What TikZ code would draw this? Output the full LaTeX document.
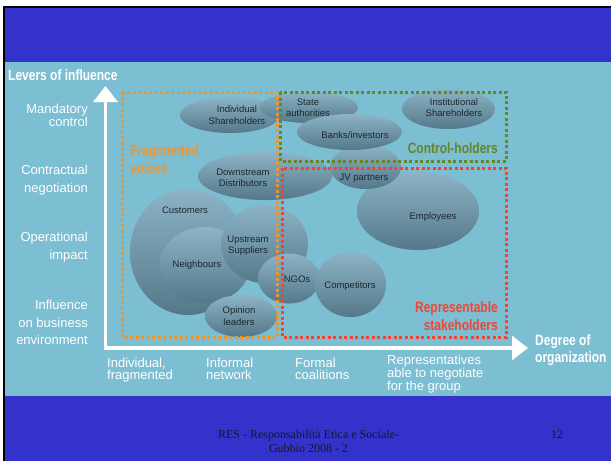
\documentclass[tikz,border=0pt]{standalone}
\usepackage{fontspec}
\setmainfont{Liberation Sans}
\newfontfamily\condfont[FakeStretch=0.8]{Liberation Sans}
\newfontfamily\footfont{Liberation Serif}
\usetikzlibrary{shapes,arrows.meta}
\definecolor{slideblue}{RGB}{51,51,204}
\definecolor{panel}{RGB}{124,190,210}
\definecolor{fragorange}{RGB}{236,150,50}
\definecolor{ctrlgreen}{RGB}{100,134,36}
\definecolor{reprred}{RGB}{244,68,48}
\definecolor{stktop}{RGB}{140,180,198}
\definecolor{stkbot}{RGB}{84,120,137}
\definecolor{stktext}{RGB}{28,40,48}
\definecolor{foottext}{RGB}{20,20,50}
\tikzset{
  stake/.style    = {ellipse, inner sep=0pt, top color=stktop, bottom color=stkbot},
  stxt/.style     = {anchor=base, align=center, inner sep=0pt, text=stktext, font=\fontsize{9.5}{11.8}\selectfont},
  lever/.style    = {anchor=base east, align=right, inner sep=0pt, text=white, font=\fontsize{13}{18}\selectfont},
  degree/.style   = {anchor=base west, align=left, inner sep=0pt, text=white, font=\fontsize{13}{11.5}\selectfont},
  group/.style    = {inner sep=0pt, font=\condfont\bfseries\fontsize{15}{17.5}\selectfont},
  dots/.style     = {line width=3pt, dash pattern=on 3pt off 2.5pt},
  axis/.style     = {draw=white, line width=3.5pt, {Triangle[width=24pt,length=16pt]}-{Triangle[width=24pt,length=16pt]}}
}

\begin{document}
\begin{tikzpicture}[x=1pt, y=-1pt]
\useasboundingbox (0,0) rectangle (611,461);

% Slide background
\fill[white] (0,0) rectangle (611,461);
\fill[black] (3,6) rectangle (611,461);
\fill[slideblue] (5,8) rectangle (611,461);
\fill[panel] (5,62) rectangle (611,396);

% Stakeholders
\node [stake, minimum width=116pt, minimum height=126pt] (cust) at (188,252) {};
\node [stake, minimum width=90pt, minimum height=76pt] (neigh) at (205,265) {};
\node [stake, minimum width=87pt, minimum height=78pt] (upstr) at (264.5,244) {};
\node [stake, minimum width=72pt, minimum height=42pt] (opin) at (241,316) {};
\node [stake, minimum width=62pt, minimum height=50pt] (ngo) at (289,278.5) {};
\node [stake, minimum width=71pt, minimum height=65pt] (comp) at (350.5,284.5) {};
\node [stake, minimum width=134pt, minimum height=48pt] (downstr) at (265,176) {};
\node [stake, minimum width=122pt, minimum height=78pt] (empl) at (418,211) {};
\node [stake, minimum width=71pt, minimum height=44pt] (jv) at (365.5,167) {};
\node [stake, minimum width=100pt, minimum height=36pt] (indsh) at (230,115) {};
\node [stake, minimum width=98pt, minimum height=31pt] (state) at (309,107.5) {};
\node [stake, minimum width=105pt, minimum height=36pt] (banks) at (349.5,132) {};
\node [stake, minimum width=93pt, minimum height=40pt] (instsh) at (448.5,109) {};

% Groups
\draw[dots, fragorange] (122,92) rectangle (277,337);
\draw[dots, ctrlgreen] (280,92) rectangle (506,161);
\draw[dots, reprred] (282,168) rectangle (506,337);

% Axes
\coordinate (corner) at (105.5,348);
\coordinate (ytip) at (105.5,86);
\coordinate (xtip) at (528,348);
\draw[axis] (ytip) -- (corner) -- (xtip);

% Stakeholder labels (base = last line)
\node [stxt] (custt) at (185,213.5) {Customers};
\node [stxt] (neight) at (197,267.5) {Neighbours};
\node [stxt] (upstrt) at (248,253.8) {Upstream\\Suppliers};
\node [stxt] (opint) at (239,325) {Opinion\\leaders};
\node [stxt] (ngot) at (297,282.5) {NGOs};
\node [stxt] (compt) at (350,288) {Competitors};
\node [stxt] (downstrt) at (243,186.8) {Downstream\\Distributors};
\node [stxt] (emplt) at (433,219.5) {Employees};
\node [stxt] (jvt) at (364,180) {JV partners};
\node [stxt] (indsht) at (237,124.3) {Individual\\Shareholders};
\node [stxt] (statet) at (308,116.8) {State\\authorities};
\node [stxt] (bankst) at (355,138.5) {Banks/investors};
\node [stxt] (instsht) at (454,116.8) {Institutional\\Shareholders};

% Group labels
\node [group, anchor=base west, align=left, text=fragorange] (fragt) at (130,173) {Fragmented\\voices};
\node [group, anchor=base east, text=ctrlgreen] (ctrlt) at (498,153) {Control-holders};
\node [group, anchor=base east, align=right, text=reprred] (reprt) at (498,330) {Representable\\stakeholders};

% Axis titles
\node [group, anchor=base west, text=white] (levers) at (8,80) {Levers of influence};
\node [group, anchor=base west, align=left, text=white, font=\condfont\bfseries\fontsize{15}{17}\selectfont] (orgt) at (535,362) {Degree of\\organization};

% Levers
\node [lever, font=\fontsize{13}{12}\selectfont] (mand) at (88,126.5) {Mandatory\\control};
\node [lever] (contr) at (88,192.5) {Contractual\\negotiation};
\node [lever] (oper) at (88,259.5) {Operational\\impact};
\node [lever, font=\fontsize{13}{17.5}\selectfont] (infl) at (88,344.5) {Influence\\on business\\environment};

% Degrees of organization
\node [degree] (indiv) at (107,379) {Individual,\\fragmented};
\node [degree] (inform) at (206,379) {Informal\\network};
\node [degree] (formal) at (295,379) {Formal\\coalitions};
\node [degree] (repres) at (387,390.5) {Representatives\\able to negotiate\\for the group};

% Footer
\node [anchor=base, align=center, inner sep=0pt, text=foottext, font=\footfont\fontsize{12}{14}\selectfont] (foot) at (308.5,452) {RES - Responsabilità Etica e Sociale-\\Gubbio 2008 - 2};
\node [anchor=base, inner sep=0pt, text=foottext, font=\footfont\fontsize{12}{14}\selectfont] (pagenum) at (557,438) {12};

\end{tikzpicture}
\end{document}
